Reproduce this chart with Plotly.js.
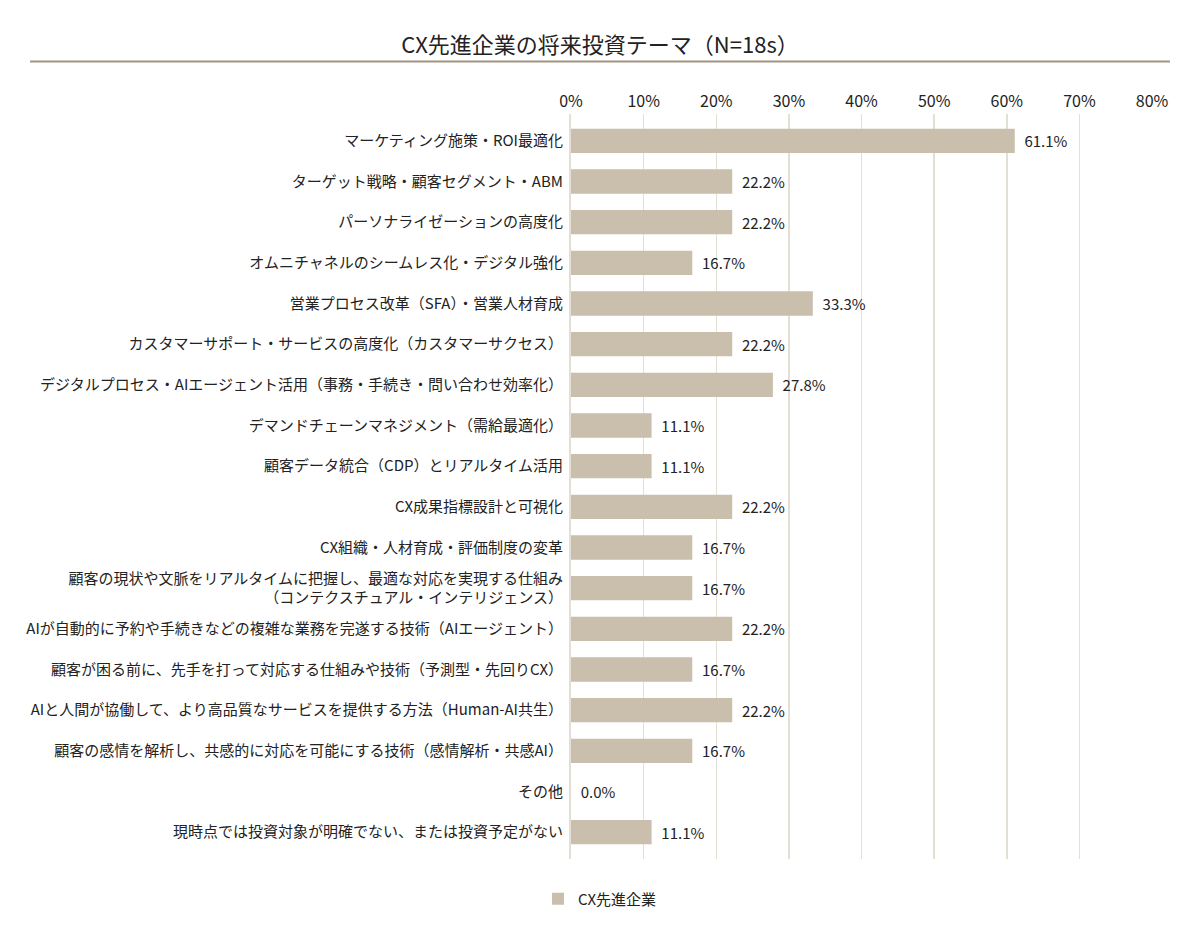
<!DOCTYPE html>
<html>
<head>
<meta charset="utf-8">
<script src="https://cdn.plot.ly/plotly-3.0.1.min.js"></script>
<style>
  html, body { margin: 0; padding: 0; background: #fff; }
  #chart { width: 1200px; height: 940px; }
</style>
</head>
<body>
<div id="chart"></div>
<script>
// ── Data ────────────────────────────────────────────────────────────
const CATEGORIES = [
  "マーケティング施策・ROI最適化",
  "ターゲット戦略・顧客セグメント・ABM",
  "パーソナライゼーションの高度化",
  "オムニチャネルのシームレス化・デジタル強化",
  "営業プロセス改革（SFA）・営業人材育成",
  "カスタマーサポート・サービスの高度化（カスタマーサクセス）",
  "デジタルプロセス・AIエージェント活用（事務・手続き・問い合わせ効率化）",
  "デマンドチェーンマネジメント（需給最適化）",
  "顧客データ統合（CDP）とリアルタイム活用",
  "CX成果指標設計と可視化",
  "CX組織・人材育成・評価制度の変革",
  "顧客の現状や文脈をリアルタイムに把握し、最適な対応を実現する仕組み<br>（コンテクスチュアル・インテリジェンス）",
  "AIが自動的に予約や手続きなどの複雑な業務を完遂する技術（AIエージェント）",
  "顧客が困る前に、先手を打って対応する仕組みや技術（予測型・先回りCX）",
  "AIと人間が協働して、より高品質なサービスを提供する方法（Human-AI共生）",
  "顧客の感情を解析し、共感的に対応を可能にする技術（感情解析・共感AI）",
  "その他",
  "現時点では投資対象が明確でない、または投資予定がない",
];

const VALUES = [61.1, 22.2, 22.2, 16.7, 33.3, 22.2, 27.8, 11.1, 11.1, 22.2,
                16.7, 16.7, 22.2, 16.7, 22.2, 16.7, 0.0, 11.1];

const X_TICKS = [0, 10, 20, 30, 40, 50, 60, 70, 80];
const X_TICK_LABELS = X_TICKS.map(v => v + "%");

const SERIES_NAME = "CX先進企業";
const TITLE = "CX先進企業の将来投資テーマ（N=18s）";

// ── Style ───────────────────────────────────────────────────────────
const FONT = "'Noto Sans CJK JP', 'Noto Sans', sans-serif";
const BAR_COLOR = "#c9bfac";
const GRID_COLOR = "#e4dfd5";
const RULE_COLOR = "#a09482";
const TEXT_COLOR = "#222";

const barTrace = {
  type: "bar",
  orientation: "h",
  name: SERIES_NAME,
  x: VALUES,
  y: CATEGORIES,
  width: 0.6,
  marker: { color: BAR_COLOR },
  // leading nbsp gives the gap between bar end and label
  text: VALUES.map(v => "\u00a0\u00a0" + v.toFixed(1) + "%"),
  textposition: "outside",
  cliponaxis: false,
  textfont: { family: FONT, size: 15, color: TEXT_COLOR },
  showlegend: true,
  hoverinfo: "x+y",
};

const layout = {
  width: 1200,
  height: 940,
  font: { family: FONT, size: 15, color: TEXT_COLOR },
  title: {
    text: TITLE,
    font: { family: FONT, size: 22, color: TEXT_COLOR },
    xref: "container", x: 0.5, xanchor: "center",
    yref: "container", y: 1 - 45 / 940, yanchor: "middle",
  },
  margin: { l: 571, r: 48, t: 114, b: 81 },
  xaxis: {
    side: "top",
    range: [0, 80],
    tickvals: X_TICKS,
    ticktext: X_TICK_LABELS,
    showgrid: true,
    gridcolor: GRID_COLOR,
    gridwidth: 1.5,
    zeroline: false,
    ticks: "",
    ticklabelstandoff: 3,
    tickfont: { family: FONT, size: 16, color: TEXT_COLOR },
    fixedrange: true,
  },
  yaxis: {
    type: "category",
    range: [17.66, -0.66],
    ticks: "",
    showgrid: false,
    zeroline: false,
    showline: true,
    linecolor: GRID_COLOR,
    linewidth: 2,
    ticklabelstandoff: 3,
    tickfont: { family: FONT, size: 15, color: TEXT_COLOR },
    fixedrange: true,
  },
  shapes: [{
    type: "line",
    xref: "paper", yref: "paper",
    x0: (30 - 571) / 581, x1: (1170 - 571) / 581,
    y0: (859 - 61.5) / 745, y1: (859 - 61.5) / 745,
    line: { color: RULE_COLOR, width: 2 },
  }],
  showlegend: true,
  legend: {
    orientation: "h",
    xref: "container", x: 0.5, xanchor: "center",
    yref: "container", y: 1 - 899 / 940, yanchor: "middle",
    font: { family: FONT, size: 15, color: TEXT_COLOR },
  },
  plot_bgcolor: "#fff",
  paper_bgcolor: "#fff",
};

Plotly.newPlot("chart", [barTrace], layout, { displayModeBar: false, staticPlot: true });
</script>
</body>
</html>
